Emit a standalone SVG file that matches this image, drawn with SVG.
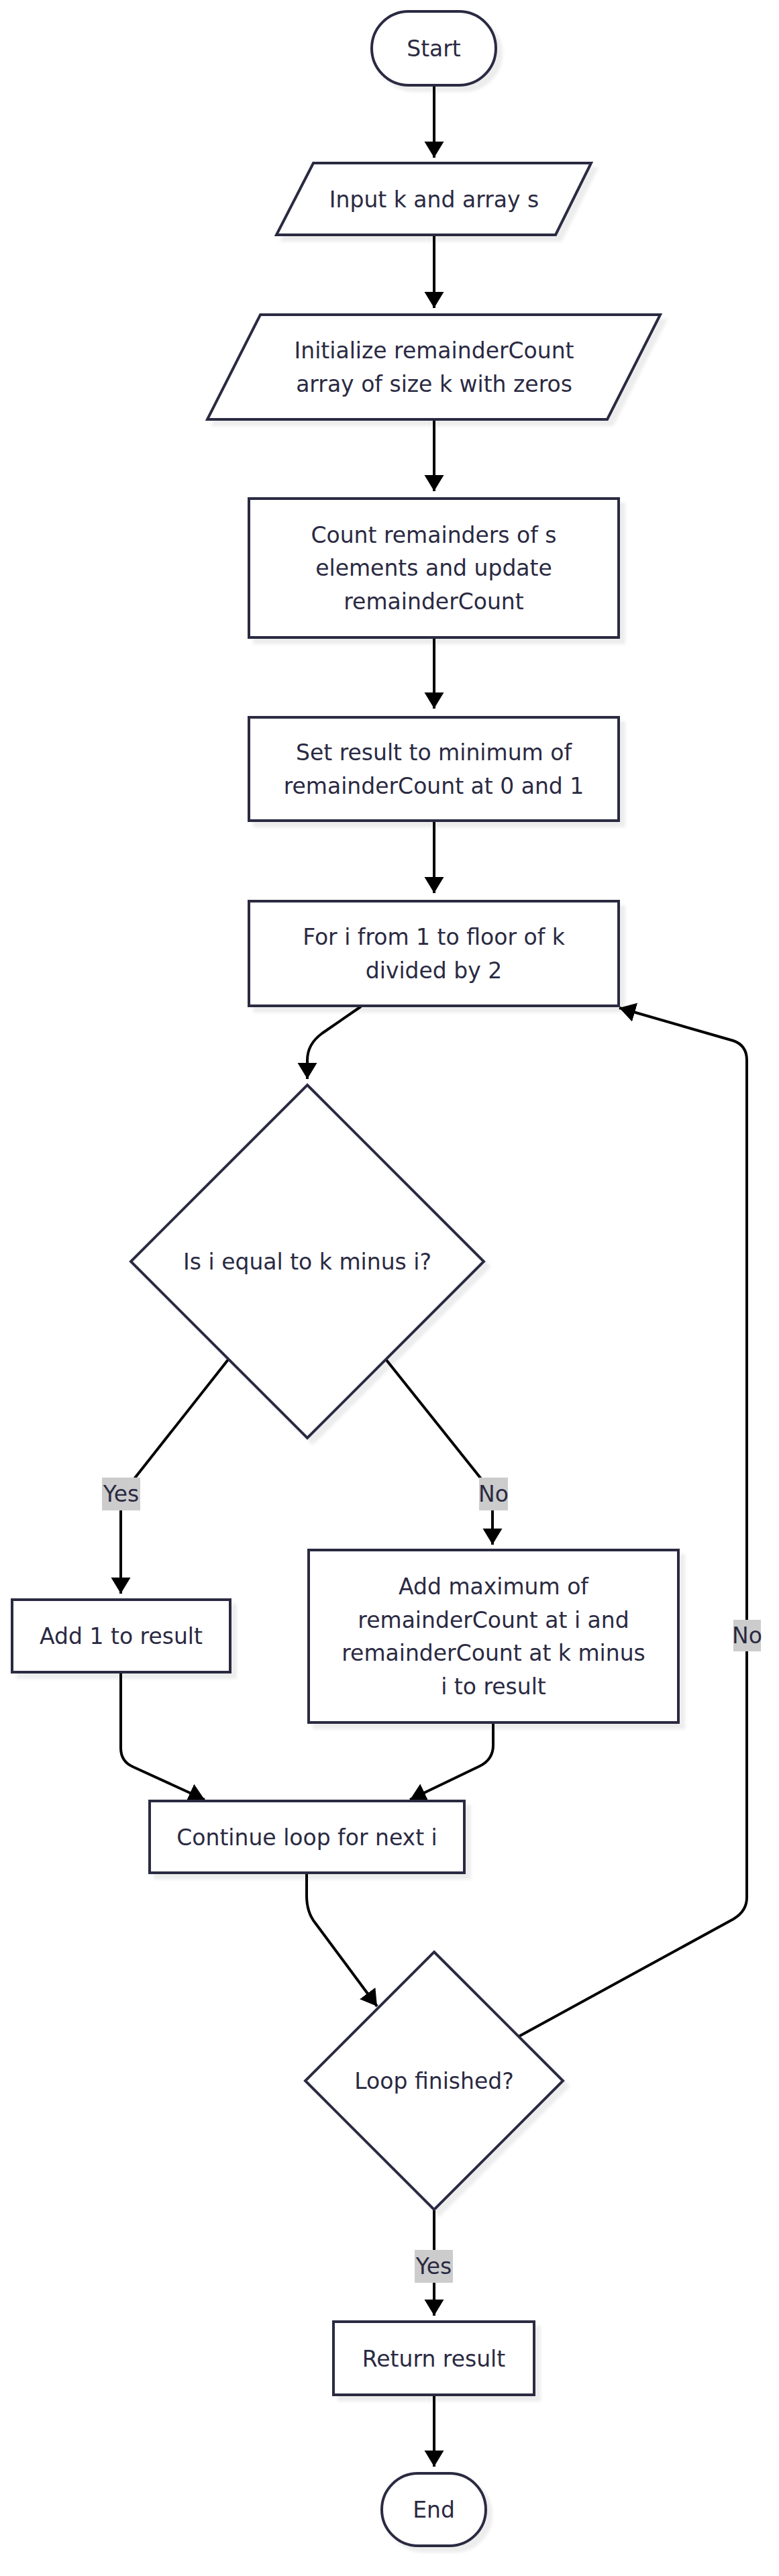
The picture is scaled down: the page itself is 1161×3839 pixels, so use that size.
<svg xmlns="http://www.w3.org/2000/svg" width="1161" height="3839" viewBox="0 0 1161 3839">
<style>
.node{fill:#ffffff;stroke:#2a2a42;stroke-width:4;filter:url(#sh)}
.t{font-family:"DejaVu Sans","Liberation Sans",sans-serif;font-size:33px;fill:#2a2a42;text-anchor:middle}
.e{fill:none;stroke:#000000;stroke-width:4;marker-end:url(#ah)}
.lb{fill:#cccccc}
</style>
<defs>
<filter id="sh" x="-10%" y="-10%" width="130%" height="130%">
<feDropShadow dx="8" dy="8" stdDeviation="2" flood-color="#000000" flood-opacity="0.07"/>
</filter>
<marker id="ah" markerUnits="userSpaceOnUse" markerWidth="26" markerHeight="30" refX="24" refY="14.5" orient="auto">
<path d="M0,0 L24,14.5 L0,29 Z" fill="#000000"/>
</marker>
</defs>
<rect width="1161" height="3839" fill="#ffffff"/>
<g id="edges">
<path class="e" d="M647,127 L647,235"/>
<path class="e" d="M647,350 L647,459"/>
<path class="e" d="M647,625 L647,732"/>
<path class="e" d="M647,950 L647,1056"/>
<path class="e" d="M647,1223 L647,1331"/>
<path class="e" d="M538,1500 L480,1540 Q458,1556 458,1580 L458,1608"/>
<path class="e" d="M341,2025 L192,2214 Q180,2230 180,2250 L180,2375"/>
<path class="e" d="M576,2027 L722,2210 Q734,2226 734,2245 L734,2302"/>
<path class="e" d="M180,2492 L180,2605 Q180,2625 198,2633 L305,2682"/>
<path class="e" d="M735,2567 L735,2601 Q735,2622 715,2632 L611,2682"/>
<path class="e" d="M457,2791 L457,2825 Q457,2850 470,2866 L562,2990"/>
<path class="e" d="M773,3035 L1093,2860 Q1113,2848 1113,2828 L1113,1580 Q1113,1558 1093,1551 L923,1502"/>
<path class="e" d="M647,3293 L647,3451"/>
<path class="e" d="M647,3569 L647,3676"/>
</g>
<g id="edge-labels">
<g id="lbl-yes1"><rect class="lb" x="152" y="2202" width="57" height="49"/><text class="t" x="180.5" y="2238">Yes</text></g>
<g id="lbl-no1"><rect class="lb" x="714" y="2202" width="43" height="49"/><text class="t" x="735.5" y="2238">No</text></g>
<g id="lbl-no2"><rect class="lb" x="1093" y="2414" width="41" height="47"/><text class="t" x="1113.5" y="2449">No</text></g>
<g id="lbl-yes2"><rect class="lb" x="618" y="3353" width="57" height="49"/><text class="t" x="646.5" y="3389">Yes</text></g>
</g>
<g id="start"><rect class="node" x="554" y="17" width="185" height="110" rx="55" ry="55"/><text class="t" x="646.5" y="84">Start</text></g>
<g id="input"><polygon class="node" points="467,243 881,243 828,350 412,350"/><text class="t" x="647" y="309">Input k and array s</text></g>
<g id="init"><polygon class="node" points="388,469 984,469 905,625 309,625"/><text class="t" x="647" y="534">Initialize remainderCount</text><text class="t" x="647" y="584">array of size k with zeros</text></g>
<g id="count"><rect class="node" x="371" y="743" width="551" height="207"/><text class="t" x="646.5" y="809">Count remainders of s</text><text class="t" x="646.5" y="858">elements and update</text><text class="t" x="646.5" y="908">remainderCount</text></g>
<g id="setresult"><rect class="node" x="371" y="1069" width="551" height="154"/><text class="t" x="646.5" y="1133">Set result to minimum of</text><text class="t" x="646.5" y="1183">remainderCount at 0 and 1</text></g>
<g id="forloop"><rect class="node" x="371" y="1343" width="551" height="156"/><text class="t" x="646.5" y="1408">For i from 1 to floor of k</text><text class="t" x="646.5" y="1458">divided by 2</text></g>
<g id="isequal"><polygon class="node" points="458,1617 721,1880 458,2143 195,1880"/><text class="t" x="458" y="1892">Is i equal to k minus i?</text></g>
<g id="addone"><rect class="node" x="18" y="2384" width="325" height="108"/><text class="t" x="180.5" y="2450">Add 1 to result</text></g>
<g id="addmax"><rect class="node" x="460" y="2310" width="551" height="257"/><text class="t" x="735.5" y="2376">Add maximum of</text><text class="t" x="735.5" y="2426">remainderCount at i and</text><text class="t" x="735.5" y="2475">remainderCount at k minus</text><text class="t" x="735.5" y="2525">i to result</text></g>
<g id="continue"><rect class="node" x="223" y="2684" width="469" height="107"/><text class="t" x="457.5" y="2750">Continue loop for next i</text></g>
<g id="loopfinished"><polygon class="node" points="647,2909 839,3101 647,3293 455,3101"/><text class="t" x="647" y="3113">Loop finished?</text></g>
<g id="return"><rect class="node" x="497" y="3460" width="299" height="109"/><text class="t" x="646.5" y="3527">Return result</text></g>
<g id="end"><rect class="node" x="569" y="3686" width="155" height="108" rx="54" ry="54"/><text class="t" x="646.5" y="3752">End</text></g>
</svg>
